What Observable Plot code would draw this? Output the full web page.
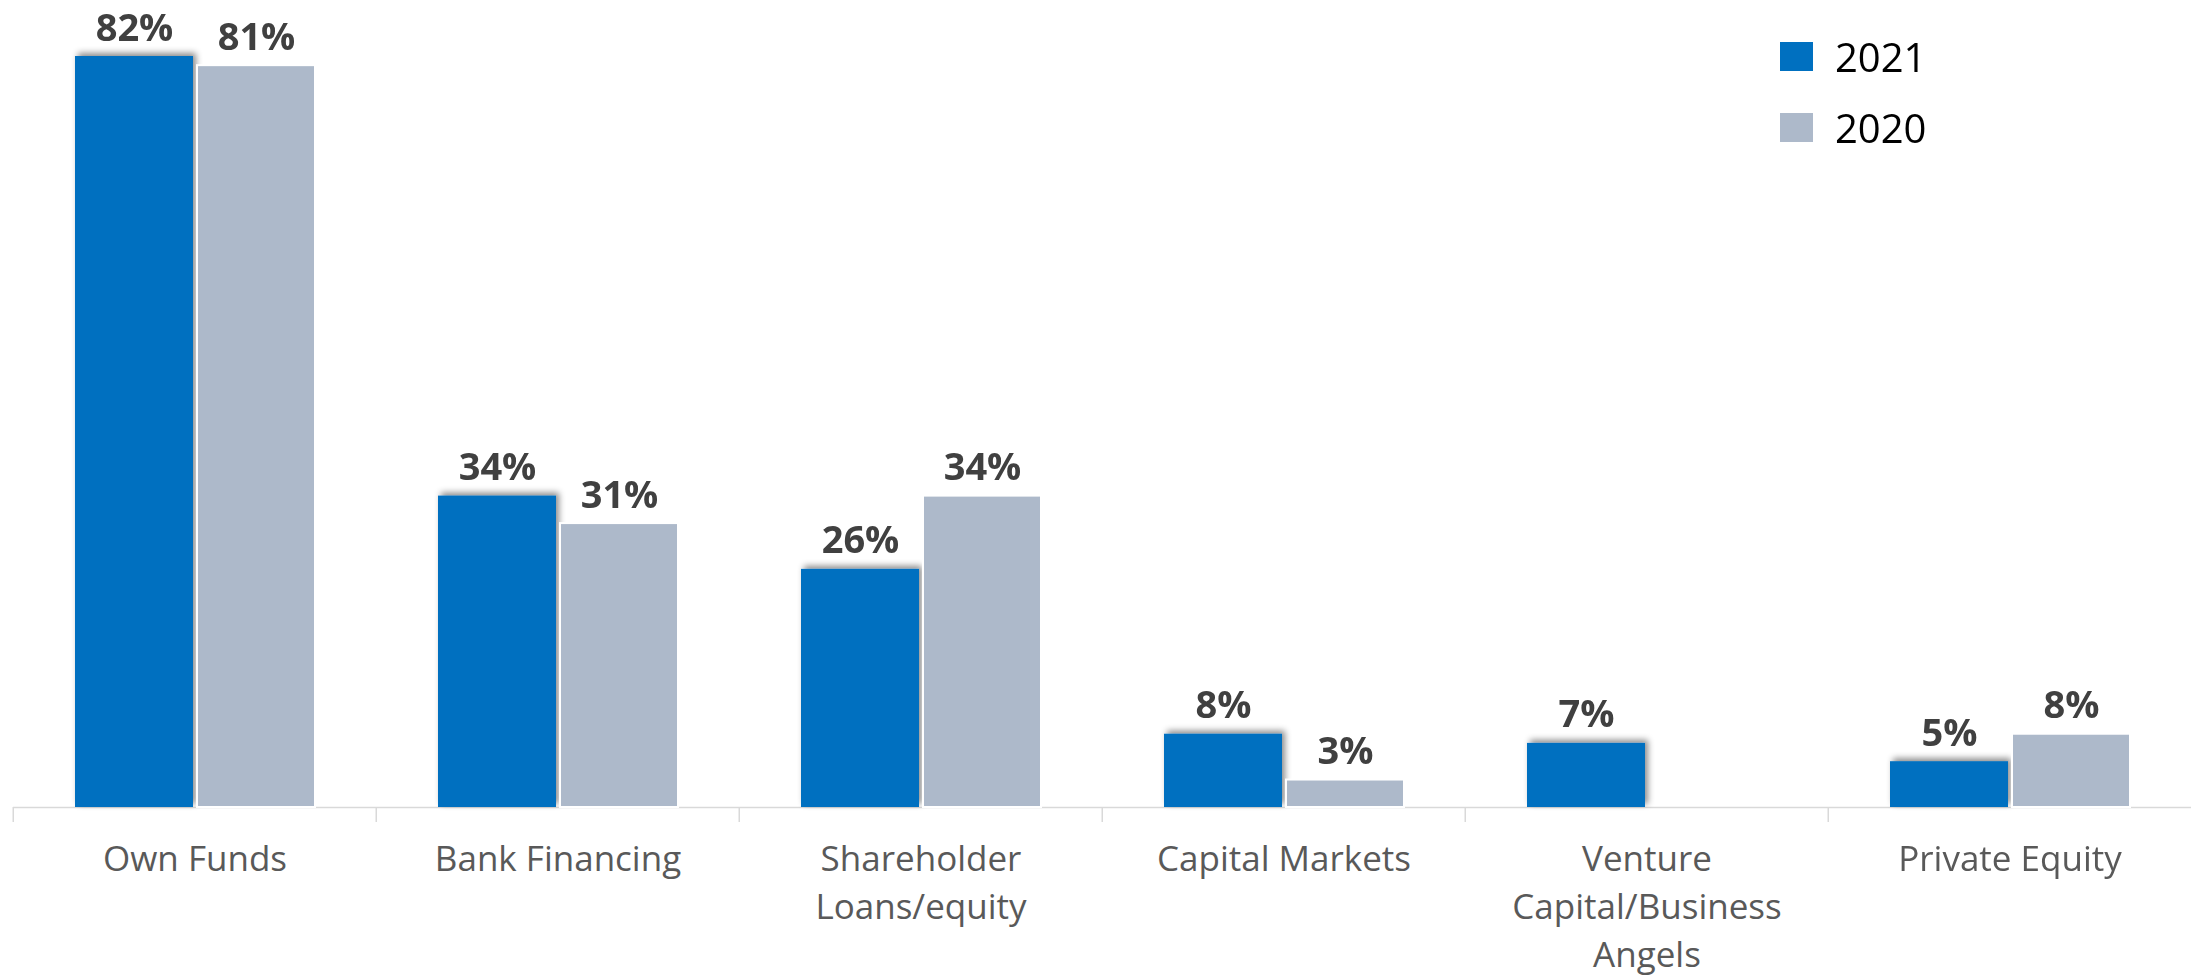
<!DOCTYPE html>
<html><head><meta charset="utf-8">
<script src="https://cdn.jsdelivr.net/npm/d3@7"></script>
<script src="https://cdn.jsdelivr.net/npm/@observablehq/plot@0.6"></script>
<style>
body{margin:0;background:#fff;}
#wrap{position:relative;width:2192px;height:980px;overflow:hidden;}
.legend{position:absolute;left:1780px;top:21px;font-family:"Open Sans",sans-serif;font-size:40px;color:#000;}
.legend .row{display:flex;align-items:center;height:71px;}
.legend .sw{width:33px;height:29px;margin-right:22px;}
</style></head>
<body><div id="wrap"></div>
<script>
const categories = ["Own Funds","Bank Financing","Shareholder Loans/equity","Capital Markets","Venture Capital/Business Angels","Private Equity"];
const tickLabels = ["Own Funds","Bank Financing","Shareholder\nLoans/equity","Capital Markets","Venture\nCapital/Business\nAngels","Private Equity"];
const years = ["2021","2020"];
const values2021 = [82,34,26,8,7,5];
const values2020 = [81,31,34,3,null,8];
const colors = ["#0070C0","#ADB9CA"];

const rows2021 = categories.map((c,i)=>({cat:c, year:"2021", value:values2021[i]}));
const rows2020 = categories.map((c,i)=>({cat:c, year:"2020", value:values2020[i]})).filter(d=>d.value!=null);
const allRows = rows2021.concat(rows2020);
const labelOf = new Map(categories.map((c,i)=>[c,tickLabels[i]]));

const W = 2192, H = 980, ML = 11, MR = 0;
const step = (W-ML-MR)/categories.length;

const chart = Plot.plot({
  width: W, height: H,
  marginLeft: ML, marginRight: MR, marginTop: 56, marginBottom: 173,
  style: {fontFamily: "'Open Sans', sans-serif", background: "#fff"},
  fx: {domain: categories, padding: 0, axis: null, label: null},
  x: {domain: years, paddingInner: 0.033, paddingOuter: 0.498, axis: null},
  y: {domain: [0, 82], axis: null},
  color: {domain: years, range: colors},
  marks: [
    Plot.ruleY([0], {stroke: "#D9D9D9", strokeWidth: 1.5}),
    Plot.axisFx({anchor: "bottom", label: null, tickSize: 15, tickFormat: () => "", stroke: "#D9D9D9", strokeWidth: 1.5, dx: -step/2}),
    Plot.barY(rows2021, {fx: "cat", x: "year", y: "value", fill: "year"}),
    Plot.barY(rows2020, {fx: "cat", x: "year", y: "value", fill: "year", stroke: "#fff", strokeWidth: 2}),
    Plot.text(allRows, {fx: "cat", x: "year", y: "value", text: d => d.value + "%", dy: -16, lineAnchor: "bottom", fontSize: 38, fontWeight: "bold", fill: "#404040"}),
    Plot.text(categories, {fx: d => d, text: d => labelOf.get(d), frameAnchor: "bottom", lineAnchor: "top", dy: 29, fontSize: 35, lineHeight: 1.38, fill: "#595959"})
  ]
});

// drop shadow on the 2021 bars
const svg = d3.select(chart);
const defs = svg.insert("defs", ":first-child");
defs.append("filter").attr("id","barShadow").attr("x","-20%").attr("y","-20%").attr("width","140%").attr("height","140%")
  .append("feDropShadow").attr("dx",3).attr("dy",-3).attr("stdDeviation",3).attr("flood-color","#000").attr("flood-opacity",0.45);
const barGroups = svg.selectAll('g[aria-label="bar"]').nodes();
if (barGroups.length) d3.select(barGroups[0]).attr("filter","url(#barShadow)");

const wrap = document.getElementById("wrap");
wrap.appendChild(chart);

const legend = document.createElement("div");
legend.className = "legend";
years.forEach((y,i)=>{
  const row = document.createElement("div"); row.className = "row";
  const sw = document.createElement("div"); sw.className = "sw"; sw.style.background = colors[i];
  const t = document.createElement("span"); t.textContent = y;
  row.appendChild(sw); row.appendChild(t); legend.appendChild(row);
});
wrap.appendChild(legend);
</script>
</body></html>
